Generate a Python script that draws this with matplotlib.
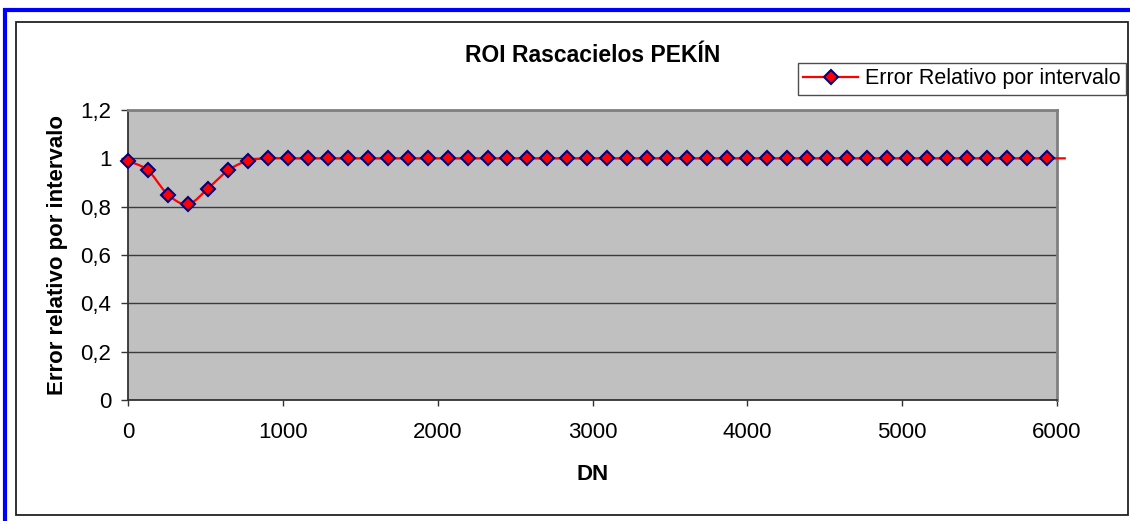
import numpy as np
import matplotlib
matplotlib.use("Agg")
import matplotlib.pyplot as plt
from matplotlib.patches import Rectangle
from matplotlib.lines import Line2D

plt.rcParams['font.family'] = ['Liberation Sans', 'DejaVu Sans']

title = "ROI Rascacielos PEKÍN"
x_label = "DN"
y_label = "Error relativo por intervalo"
series_name = "Error Relativo por intervalo"

dn = [0, 129, 258, 387, 516, 645, 774, 903, 1032, 1161, 1290, 1419, 1548, 1677,
      1806, 1935, 2064, 2193, 2322, 2451, 2580, 2709, 2838, 2967, 3096, 3225,
      3354, 3483, 3612, 3741, 3870, 3999, 4128, 4257, 4386, 4515, 4644, 4773,
      4902, 5031, 5160, 5289, 5418, 5547, 5676, 5805, 5934]
err = [0.99, 0.95, 0.85, 0.81, 0.875, 0.95, 0.99] + [1.0] * 40
line_tail_dn = 6050
line_tail_err = 1.0

x_ticks = [0, 1000, 2000, 3000, 4000, 5000, 6000]
x_tick_labels = ["0", "1000", "2000", "3000", "4000", "5000", "6000"]
y_ticks = [0, 0.2, 0.4, 0.6, 0.8, 1.0, 1.2]
y_tick_labels = ["0", "0,2", "0,4", "0,6", "0,8", "1", "1,2"]


def catmull_rom(xs, ys, n=16):
    xs = np.asarray(xs, float)
    ys = np.asarray(ys, float)
    px = np.concatenate([[2 * xs[0] - xs[1]], xs, [2 * xs[-1] - xs[-2]]])
    py = np.concatenate([[2 * ys[0] - ys[1]], ys, [2 * ys[-1] - ys[-2]]])
    ox, oy = [], []
    t = np.linspace(0, 1, n, endpoint=False)
    for i in range(1, len(px) - 2):
        for arr, out in ((px, ox), (py, oy)):
            p0, p1, p2, p3 = arr[i - 1], arr[i], arr[i + 1], arr[i + 2]
            out.extend(0.5 * ((2 * p1) + (-p0 + p2) * t
                              + (2 * p0 - 5 * p1 + 4 * p2 - p3) * t ** 2
                              + (-p0 + 3 * p1 - 3 * p2 + p3) * t ** 3))
    ox.append(xs[-1]); oy.append(ys[-1])
    return np.array(ox), np.array(oy)


W, H = 1130, 521
fig = plt.figure(figsize=(W / 100, H / 100), dpi=100)
fig.patch.set_facecolor('white')

# outer blue border and inner black frame
fig.add_artist(Rectangle((4.5 / W, -0.05), 1.2, 1 - 10 / H + 0.05, transform=fig.transFigure,
                         fill=False, edgecolor='#0000FF', linewidth=3.0))
fig.add_artist(Rectangle((16 / W, 1 - 515 / H), (1128 - 16) / W, (515 - 22) / H,
                         transform=fig.transFigure, fill=False, edgecolor='#222222',
                         linewidth=1.3))

L, R, T, B = 128, 1057, 110, 400
ax = fig.add_axes([L / W, 1 - B / H, (R - L) / W, (B - T) / H])
ax.set_facecolor('#C0C0C0')
ax.set_xlim(0, 6000)
ax.set_ylim(0, 1.2)

ax.set_yticks(y_ticks)
ax.set_yticklabels(y_tick_labels)
ax.set_xticks(x_ticks)
ax.set_xticklabels(x_tick_labels)
ax.yaxis.grid(True, color='#3a3a3a', linewidth=1.0)
ax.set_axisbelow(True)

for s in ('top', 'right'):
    ax.spines[s].set_color('#808080')
    ax.spines[s].set_linewidth(2.0)
for s in ('left', 'bottom'):
    ax.spines[s].set_color('#333333')
    ax.spines[s].set_linewidth(1.3)

ax.tick_params(axis='y', direction='out', length=5, width=1, color='#333333',
               labelsize=16, pad=7)
ax.tick_params(axis='x', direction='out', length=4, width=1, color='#333333',
               labelsize=16, pad=12)

sx, sy = catmull_rom(dn + [line_tail_dn], err + [line_tail_err])
ax.plot(sx, sy, color='#FF0000', linewidth=1.6, clip_on=False, zorder=3)
ax.plot(dn, err, linestyle='none', marker='D', markersize=7.5,
        markerfacecolor='#FF0000', markeredgecolor='#000080', markeredgewidth=1.5,
        zorder=4, clip_on=False)

ax.set_xlabel(x_label, fontsize=16, fontweight='bold', labelpad=15)
ax.set_ylabel(y_label, fontsize=16, fontweight='bold', labelpad=9)

fig.text(593 / W, 1 - 55 / H, title, fontsize=16.5, fontweight='bold',
         ha='center', va='center')

handle = Line2D([], [], color='#FF0000', linewidth=1.6, marker='D', markersize=7.5,
                markerfacecolor='#FF0000', markeredgecolor='#000080', markeredgewidth=1.5)
leg = fig.legend([handle], [series_name], loc='upper left',
                 bbox_to_anchor=(798 / W, 1 - 63 / H), frameon=True, fontsize=15.5,
                 fancybox=False, borderpad=0.25, handlelength=2.55, handletextpad=0.3,
                 borderaxespad=0)
leg.get_frame().set_edgecolor('#222222')
leg.get_frame().set_linewidth(1.0)

fig.savefig('out.png', dpi=100)
